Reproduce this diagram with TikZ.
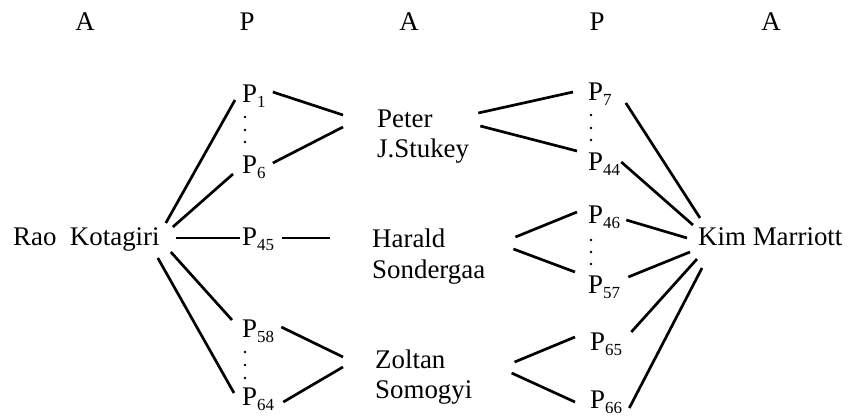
\documentclass[tikz,border=0pt]{standalone}
\usepackage{fontspec}
\setmainfont{Liberation Serif}
\newcommand\Psub[1]{P\raisebox{-5bp}{\fontsize{17}{17}\selectfont #1}}
\begin{document}
\begin{tikzpicture}[x=1bp,y=-1bp,
  lbl/.style={inner sep=0pt, anchor=base west, font=\fontsize{27}{31}\selectfont},
  hdr/.style={inner sep=0pt, anchor=base, font=\fontsize{27}{31}\selectfont},
  link/.style={line width=2.7bp},
  vdot/.style={fill=black}]
\useasboundingbox (0,0) rectangle (850,416);
% headers
\node[hdr] (h1) at (85,30) {A};
\node[hdr] (h2) at (247,30) {P};
\node[hdr] (h3) at (409,30) {A};
\node[hdr] (h4) at (597,30) {P};
\node[hdr] (h5) at (771,30) {A};
% authors
\node[lbl] (rao) at (13,245) {Rao~~Kotagiri};
\node[lbl] (kim) at (698,245) {Kim Marriott};
\node[lbl] (peter) at (377,127) {Peter};
\node[lbl] (stukey) at (377,157) {J.Stukey};
\node[lbl] (harald) at (372,247) {Harald};
\node[lbl] (sonder) at (372,278) {Sondergaa};
\node[lbl] (zoltan) at (375,368) {Zoltan};
\node[lbl] (somogyi) at (375,398) {Somogyi};
% papers
\node[lbl] (p1) at (242,102) {\Psub{1}};
\node[lbl] (p6) at (242,173) {\Psub{6}};
\node[lbl] (p45) at (242,245) {\Psub{45}};
\node[lbl] (p58) at (242,337) {\Psub{58}};
\node[lbl] (p64) at (242,405) {\Psub{64}};
\node[lbl] (p7) at (588,100) {\Psub{7}};
\node[lbl] (p44) at (588,170) {\Psub{44}};
\node[lbl] (p46) at (588,223) {\Psub{46}};
\node[lbl] (p57) at (588,293) {\Psub{57}};
\node[lbl] (p65) at (590,350) {\Psub{65}};
\node[lbl] (p66) at (590,408) {\Psub{66}};
% vertical dots
\foreach \y in {117,130,142} \fill[vdot] (245,\y) circle (1.4);
\foreach \y in {352,365,378} \fill[vdot] (245,\y) circle (1.4);
\foreach \y in {115,128,140} \fill[vdot] (591,\y) circle (1.4);
\foreach \y in {240,252,264} \fill[vdot] (591,\y) circle (1.4);
% Rao fan
\draw[link] ([shift={(6,-22)}]rao.base east) -- ([shift={(-7,-2)}]p1.base west);
\draw[link] ([shift={(13,-18)}]rao.base east) -- ([shift={(-9,1)}]p6.base west);
\draw[link] ([shift={(16,-7)}]rao.base east) -- ([shift={(-2,-7)}]p45.base west);
\draw[link] ([shift={(11,7)}]rao.base east) -- ([shift={(-10,-17)}]p58.base west);
\draw[link] ([shift={(-2,13)}]rao.base east) -- ([shift={(-8,-12)}]p64.base west);
% left papers to middle authors
\draw[link] ([shift={(7,-10)}]p1.base east) -- ([shift={(-34,-12)}]peter.base west);
\draw[link] ([shift={(7,-10)}]p6.base east) -- ([shift={(-34,0)}]peter.base west);
\draw[link] ([shift={(8,-7)}]p45.base east) -- ([shift={(-42,-9)}]harald.base west);
\draw[link] ([shift={(7,-10)}]p58.base east) -- ([shift={(-32,-11)}]zoltan.base west);
\draw[link] ([shift={(9,-3)}]p64.base east) -- ([shift={(-32,-1)}]zoltan.base west);
% middle authors to right papers
\draw[link] ([shift={(9,-44)}]stukey.base east) -- ([shift={(-15,-8)}]p7.base west);
\draw[link] ([shift={(11,-31)}]stukey.base east) -- ([shift={(-11,-19)}]p44.base west);
\draw[link] ([shift={(30,-41)}]sonder.base east) -- ([shift={(-11,-11)}]p46.base west);
\draw[link] ([shift={(28,-29)}]sonder.base east) -- ([shift={(-13,-21)}]p57.base west);
\draw[link] ([shift={(69,-6)}]zoltan.base east) -- ([shift={(-15,-13)}]p65.base west);
\draw[link] ([shift={(66,5)}]zoltan.base east) -- ([shift={(-15,-6)}]p66.base west);
% right papers to Kim
\draw[link] ([shift={(14,3)}]p7.base east) -- ([shift={(2,-27)}]kim.base west);
\draw[link] ([shift={(1,-8)}]p44.base east) -- ([shift={(-5,-20)}]kim.base west);
\draw[link] ([shift={(6,-3)}]p46.base east) -- ([shift={(-11,-7)}]kim.base west);
\draw[link] ([shift={(8,-16)}]p57.base east) -- ([shift={(-8,7)}]kim.base west);
\draw[link] ([shift={(9,-18)}]p65.base east) -- ([shift={(-1,14)}]kim.base west);
\draw[link] ([shift={(7,0)}]p66.base east) -- ([shift={(4,23)}]kim.base west);
\end{tikzpicture}
\end{document}
